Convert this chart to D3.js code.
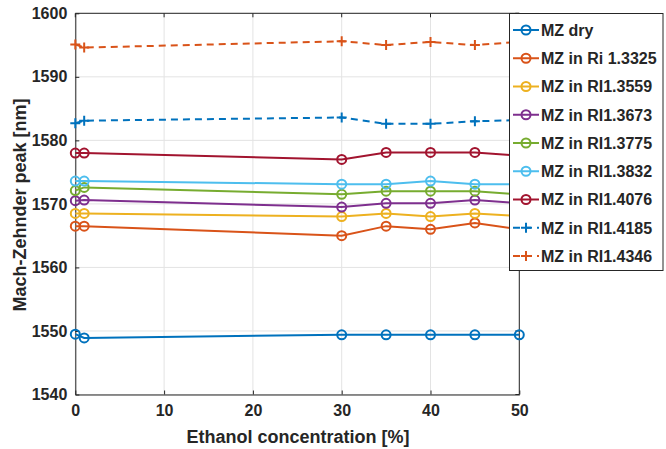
<!DOCTYPE html>
<html><head><meta charset="utf-8">
<script src="https://cdn.jsdelivr.net/npm/d3@7"></script>
<style>
body{margin:0;background:#fff;}
svg{display:block;font-family:"Liberation Sans",Arial,sans-serif;}
</style></head>
<body><svg id="c" width="666" height="449"></svg>
<script>
const concentrations = [0, 1, 30, 35, 40, 45, 50];
const seriesNames = ["MZ dry","MZ in Ri 1.3325","MZ in RI1.3559","MZ in RI1.3673","MZ in RI1.3775","MZ in RI1.3832","MZ in RI1.4076","MZ in RI1.4185","MZ in RI1.4346"];
const mzDry    = [1549.5, 1548.9, 1549.4, 1549.4, 1549.4, 1549.4, 1549.4];
const ri13325  = [1566.5, 1566.5, 1565.0, 1566.5, 1566.0, 1567.0, 1566.0];
const ri13559  = [1568.5, 1568.5, 1568.0, 1568.5, 1568.0, 1568.5, 1568.1];
const ri13673  = [1570.5, 1570.6, 1569.5, 1570.1, 1570.1, 1570.6, 1570.1];
const ri13775  = [1572.1, 1572.6, 1571.5, 1572.0, 1572.0, 1572.0, 1571.5];
const ri13832  = [1573.6, 1573.6, 1573.1, 1573.1, 1573.6, 1573.1, 1573.1];
const ri14076  = [1578.0, 1578.0, 1577.0, 1578.1, 1578.1, 1578.1, 1577.6];
const ri14185  = [1582.7, 1583.1, 1583.6, 1582.6, 1582.6, 1583.0, 1583.2];
const ri14346  = [1595.1, 1594.6, 1595.6, 1595.0, 1595.5, 1595.0, 1595.5];
const seriesValues = [mzDry, ri13325, ri13559, ri13673, ri13775, ri13832, ri14076, ri14185, ri14346];
const markers = ["o","o","o","o","o","o","o","+","+"];
const xTicks = [0,10,20,30,40,50];
const yTicks = [1540,1550,1560,1570,1580,1590,1600];
const colors = ["#0072BD","#D95319","#EDB120","#7E2F8E","#77AC30","#4DBEEE","#A2142F","#0072BD","#D95319"];

const svg = d3.select("#c");
const L = 75.3, R = 519.3, T = 13.3, B = 394.5;
const x = d3.scaleLinear().domain([0,50]).range([L,R]);
const y = d3.scaleLinear().domain([1540,1600]).range([B,T]);
const axc = "#262626";

// grid
const g = svg.append("g");
g.selectAll(".gx").data(xTicks).enter().append("line")
  .attr("x1",d=>x(d)).attr("x2",d=>x(d)).attr("y1",T).attr("y2",B)
  .attr("stroke","#e3e3e3").attr("stroke-width",1);
g.selectAll(".gy").data(yTicks).enter().append("line")
  .attr("y1",d=>y(d)).attr("y2",d=>y(d)).attr("x1",L).attr("x2",R)
  .attr("stroke","#e3e3e3").attr("stroke-width",1);

// axes
const fmt = d3.format("d");
const xAx = d3.axisBottom(x).tickValues(xTicks).tickFormat(fmt).tickSizeInner(-4).tickSizeOuter(0).tickPadding(10);
const yAx = d3.axisLeft(y).tickValues(yTicks).tickFormat(fmt).tickSizeInner(-4).tickSizeOuter(0).tickPadding(8);
const gx = svg.append("g").attr("transform",`translate(0,${B})`).call(xAx);
const gy = svg.append("g").attr("transform",`translate(${L},0)`).call(yAx);
[gx,gy].forEach(a=>{
  a.selectAll("path").attr("stroke",axc);
  a.selectAll("line").attr("stroke",axc);
  a.selectAll("text").attr("fill",axc).attr("font-size",16).attr("font-weight","bold");
});
gx.selectAll("text").attr("dy","0.71em");
// top and right box
svg.append("line").attr("x1",L).attr("x2",R).attr("y1",T).attr("y2",T).attr("stroke",axc);
svg.append("line").attr("x1",R).attr("x2",R).attr("y1",T).attr("y2",B).attr("stroke",axc);
// top/right ticks inward
svg.selectAll(".tt").data(xTicks).enter().append("line")
  .attr("x1",d=>x(d)).attr("x2",d=>x(d)).attr("y1",T).attr("y2",T+4).attr("stroke",axc);
svg.selectAll(".rt").data(yTicks).enter().append("line")
  .attr("y1",d=>y(d)).attr("y2",d=>y(d)).attr("x1",R).attr("x2",R-4).attr("stroke",axc);

// labels
svg.append("text").attr("x",298).attr("y",443).attr("text-anchor","middle")
  .attr("font-size",18).attr("font-weight","bold").attr("fill",axc).text("Ethanol concentration [%]");
svg.append("text").attr("transform","translate(26,205) rotate(-90)").attr("text-anchor","middle")
  .attr("font-size",18).attr("font-weight","bold").attr("fill",axc).text("Mach-Zehnder peak [nm]");

// series
const line = d3.line().x(d=>x(d[0])).y(d=>y(d[1]));
function drawMarker(sel, type, cx, cy, color){
  if(type==="o"){
    sel.append("circle").attr("cx",cx).attr("cy",cy).attr("r",4.5)
      .attr("fill","none").attr("stroke",color).attr("stroke-width",2);
  } else {
    sel.append("path").attr("d",`M${cx-5},${cy}H${cx+5}M${cx},${cy-5}V${cy+5}`)
      .attr("stroke",color).attr("stroke-width",2).attr("fill","none");
  }
}
seriesValues.forEach((vals,i)=>{
  const pts = concentrations.map((c,j)=>[c,vals[j]]);
  const sg = svg.append("g");
  sg.append("path").attr("d",line(pts)).attr("fill","none").attr("stroke",colors[i])
    .attr("stroke-width",2).attr("stroke-dasharray",markers[i]==="+"?"7,5":null);
  pts.forEach(p=>drawMarker(sg, markers[i], x(p[0]), y(p[1]), colors[i]));
});

// legend
const lg = svg.append("g");
lg.append("rect").attr("x",509.5).attr("y",13.5).attr("width",153.5).attr("height",257)
  .attr("fill","#fff").attr("stroke",axc).attr("stroke-width",1);
seriesNames.forEach((n,i)=>{
  const cy = 30 + i*28.25;
  lg.append("line").attr("x1",513).attr("x2",539).attr("y1",cy).attr("y2",cy)
    .attr("stroke",colors[i]).attr("stroke-width",2)
    .attr("stroke-dasharray",markers[i]==="+"?"7,5":null);
  drawMarker(lg, markers[i], 526, cy, colors[i]);
  lg.append("text").attr("x",541).attr("y",cy).attr("dy","0.36em")
    .attr("font-size",16).attr("font-weight","bold").attr("fill",axc).text(n);
});
</script></body></html>
